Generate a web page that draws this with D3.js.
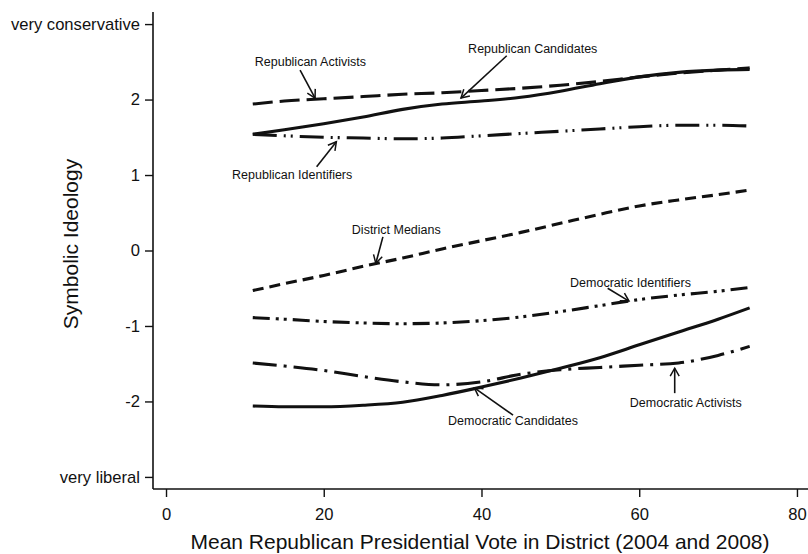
<!DOCTYPE html>
<html>
<head>
<meta charset="utf-8">
<script src="https://cdn.jsdelivr.net/npm/d3@7"></script>
<style>
body{margin:0;background:#fff;}
text{font-family:"Liberation Sans",Arial,sans-serif;fill:#111;}
</style>
</head>
<body>
<svg id="chart" width="808" height="554"></svg>
<script>
// district mean republican vote (x grid shared by all curves)
var voteShare=[11,15,20,25,30,35,40,45,50,55,60,65,70,74];
// symbolic ideology, one array per group
var repActivists =[1.94,1.98,2.01,2.04,2.07,2.09,2.12,2.15,2.19,2.24,2.30,2.35,2.39,2.42];
var repCandidates=[1.54,1.60,1.68,1.77,1.87,1.94,1.98,2.03,2.11,2.21,2.30,2.36,2.39,2.40];
var repIdentifiers=[1.54,1.52,1.50,1.49,1.48,1.49,1.52,1.55,1.58,1.61,1.64,1.66,1.66,1.65];
var districtMedians=[-0.53,-0.44,-0.33,-0.21,-0.10,0.02,0.13,0.24,0.36,0.48,0.59,0.67,0.74,0.80];
var demIdentifiers=[-0.89,-0.91,-0.94,-0.96,-0.97,-0.96,-0.93,-0.88,-0.81,-0.73,-0.65,-0.59,-0.54,-0.49];
var demCandidates=[-2.06,-2.07,-2.07,-2.05,-2.01,-1.92,-1.81,-1.69,-1.56,-1.42,-1.25,-1.08,-0.91,-0.76];
var demActivists=[-1.49,-1.53,-1.59,-1.67,-1.74,-1.78,-1.74,-1.64,-1.58,-1.55,-1.52,-1.49,-1.39,-1.27];

var xTicks=[0,20,40,60,80];
var yTicks=[-3,-2,-1,0,1,2,3];
var yTickLabels={'-3':'very liberal','3':'very conservative'};

var svg=d3.select('#chart');
var x=d3.scaleLinear().domain([-1.65,81.4]).range([153,808]);
var y=d3.scaleLinear().domain([-3.16,3.16]).range([489,12]);

// axes
var gy=svg.append('g').attr('transform','translate(153,0)')
	.call(d3.axisLeft(y).tickValues(yTicks).tickSize(8).tickPadding(5)
	.tickFormat(function(d){return yTickLabels[d]||String(d);}));
var gx=svg.append('g').attr('transform','translate(0,489)')
	.call(d3.axisBottom(x).tickValues(xTicks).tickSize(8).tickPadding(11).tickFormat(String));
[gx,gy].forEach(function(g){
	g.select('.domain').attr('stroke','#111').attr('stroke-width',1.6);
	g.selectAll('.tick line').attr('stroke','#111').attr('stroke-width',1.4);
	g.selectAll('.tick text').attr('font-size',16.6).attr('fill','#111')
		.attr('font-family','"Liberation Sans",Arial,sans-serif');
});
gy.select('.domain').attr('d','M0,12V489');
gx.select('.domain').attr('d','M153,0H808');

svg.append('text').attr('x',480).attr('y',549).attr('text-anchor','middle')
	.attr('font-size',21).text('Mean Republican Presidential Vote in District (2004 and 2008)');
svg.append('text').attr('transform','translate(78,244) rotate(-90)').attr('text-anchor','middle')
	.attr('font-size',21).text('Symbolic Ideology');

// curves
var series=[
	{v:repActivists,dash:'20,7'},
	{v:repCandidates,dash:null},
	{v:repIdentifiers,dash:'24,7,2,5,2,7'},
	{v:districtMedians,dash:'11,6'},
	{v:demIdentifiers,dash:'17,6,3,5,3,6'},
	{v:demCandidates,dash:null},
	{v:demActivists,dash:'24,7,3,7'}
];
var line=d3.line().x(function(d,i){return x(voteShare[i]);}).y(function(d){return y(d);})
	.curve(d3.curveMonotoneX);
svg.append('g').selectAll('path').data(series).join('path')
	.attr('d',function(s){return line(s.v);})
	.attr('fill','none').attr('stroke','#111').attr('stroke-width',3.1)
	.attr('stroke-dasharray',function(s){return s.dash;});

// labels with arrows, in data units
var notes=[
	{t:'Republican Activists',tx:18.3,ty:2.50,ax:17.0,ay:2.39,bx:18.9,by:2.02},
	{t:'Republican Candidates',tx:46.5,ty:2.67,ax:43.2,ay:2.58,bx:37.4,by:2.02},
	{t:'Republican Identifiers',tx:16.0,ty:1.00,ax:19.1,ay:1.11,bx:21.6,by:1.44},
	{t:'District Medians',tx:29.2,ty:0.27,ax:27.5,ay:0.18,bx:26.6,by:-0.17},
	{t:'Democratic Identifiers',tx:58.9,ty:-0.42,ax:56.0,ay:-0.50,bx:58.7,by:-0.67},
	{t:'Democratic Activists',tx:65.9,ty:-2.02,ax:64.5,ay:-1.89,bx:64.5,by:-1.56},
	{t:'Democratic Candidates',tx:44.0,ty:-2.26,ax:44.0,ay:-2.18,bx:39.1,by:-1.82}
];
svg.append('defs').append('marker').attr('id','head')
	.attr('viewBox','-10 -6 12 12').attr('refX',0).attr('refY',0)
	.attr('markerWidth',12).attr('markerHeight',12).attr('markerUnits','userSpaceOnUse')
	.attr('orient','auto')
	.append('path').attr('d','M-8,-4.5L0,0L-8,4.5').attr('fill','none')
	.attr('stroke','#111').attr('stroke-width',1.5);
var gn=svg.append('g');
gn.selectAll('line').data(notes).join('line')
	.attr('x1',function(d){return x(d.ax);}).attr('y1',function(d){return y(d.ay);})
	.attr('x2',function(d){return x(d.bx);}).attr('y2',function(d){return y(d.by);})
	.attr('stroke','#111').attr('stroke-width',1.6).attr('marker-end','url(#head)');
gn.selectAll('text').data(notes).join('text')
	.attr('x',function(d){return x(d.tx);}).attr('y',function(d){return y(d.ty);})
	.attr('dy','0.35em').attr('text-anchor','middle').attr('font-size',12.5)
	.text(function(d){return d.t;});
</script>
</body>
</html>
